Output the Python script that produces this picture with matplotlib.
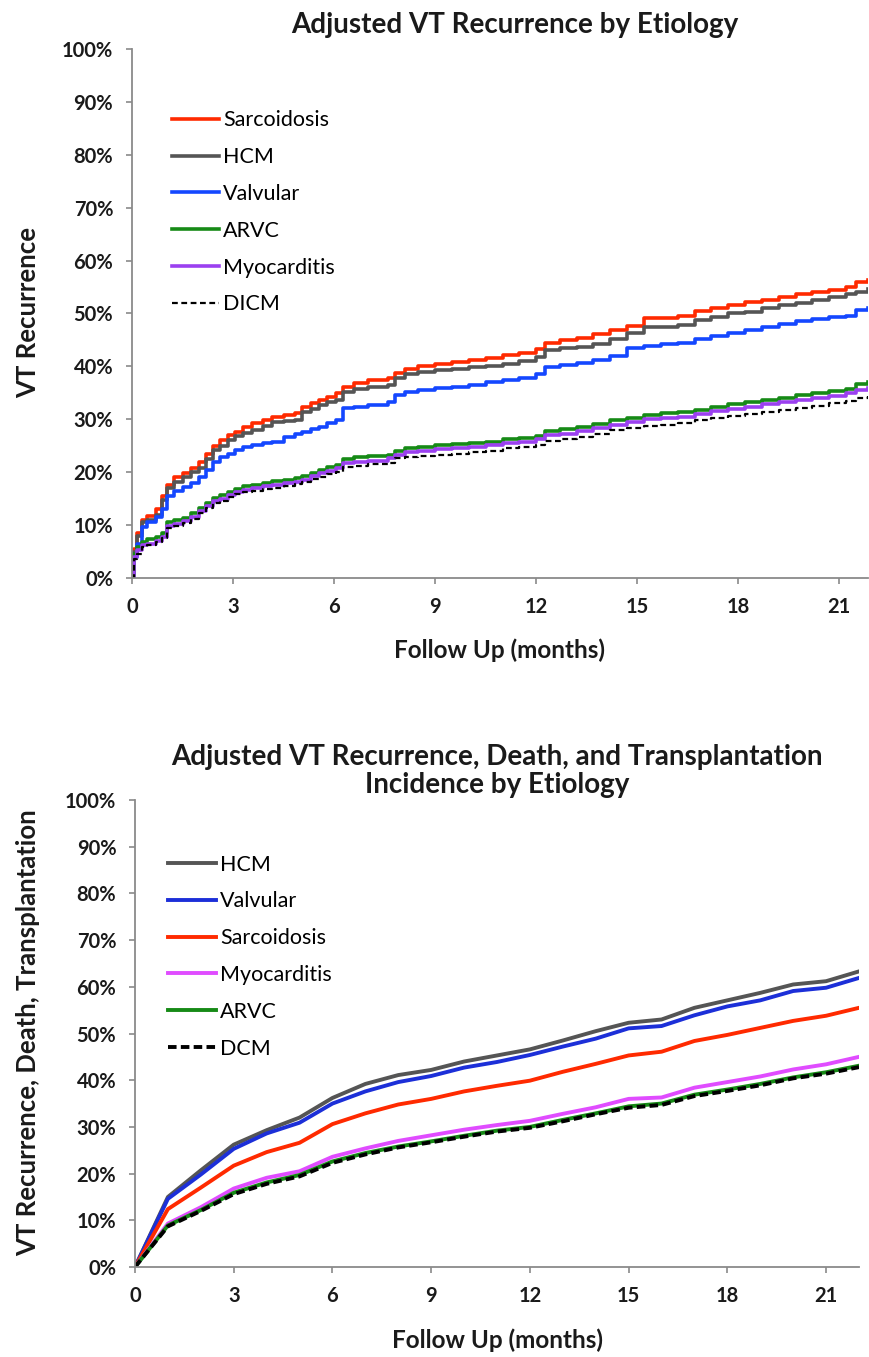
import matplotlib
matplotlib.use("Agg")
import matplotlib.pyplot as plt
from matplotlib.ticker import PercentFormatter, MultipleLocator

plt.rcParams['font.family'] = ['Lato', 'DejaVu Sans']

# ---------------- Top panel data (step curves) ----------------
top_months = [0, 0.05, 0.15, 0.3, 0.45, 0.7, 0.9, 1.05, 1.25, 1.5,
              1.75, 2.0, 2.2, 2.4, 2.6, 2.85, 3.05, 3.3, 3.55, 3.9,
              4.15, 4.5, 4.85, 5.05, 5.3, 5.55, 5.8, 6.05, 6.25, 6.6,
              7.0, 7.6, 7.8, 8.1, 8.5, 9.0, 9.5, 10.0, 10.5, 11.0,
              11.5, 12.0, 12.25, 12.7, 13.2, 13.7, 14.2, 14.7, 15.2, 15.7,
              16.2, 16.7, 17.2, 17.7, 18.2, 18.7, 19.2, 19.7, 20.2, 20.7,
              21.2, 21.5, 21.85]

top_sarcoidosis = [0, 5.5, 8.5, 11.0, 11.8, 13.0, 15.5, 17.5, 19.0, 19.8,
                   20.8, 22.0, 23.5, 25.0, 26.0, 27.0, 27.6, 28.5, 29.3, 29.9,
                   30.5, 30.8, 31.2, 32.4, 33.0, 33.6, 34.3, 35.0, 36.2, 36.8,
                   37.4, 37.8, 38.7, 39.5, 40.0, 40.4, 40.8, 41.2, 41.6, 42.1,
                   42.6, 43.2, 44.5, 45.0, 45.4, 46.2, 46.8, 47.6, 49.1, 49.2,
                   49.5, 50.5, 51.0, 51.6, 52.2, 52.6, 53.1, 53.6, 54.0, 54.5,
                   55.0, 55.9, 56.3]
top_hcm = [0, 5.0, 8.0, 10.5, 11.0, 12.0, 14.7, 17.0, 18.2, 19.0,
           20.0, 20.8, 22.5, 24.2, 25.0, 26.1, 26.8, 27.5, 28.0, 28.8,
           29.5, 29.7, 29.9, 31.4, 32.0, 32.7, 33.2, 33.6, 35.2, 35.7,
           36.2, 36.5, 37.8, 38.5, 38.9, 39.3, 39.6, 39.9, 40.1, 40.4,
           41.0, 41.8, 43.1, 43.4, 43.7, 44.2, 45.2, 46.3, 47.5, 47.5,
           47.8, 48.8, 49.3, 50.0, 50.3, 51.0, 51.6, 52.0, 52.6, 53.2,
           53.6, 54.1, 54.6]
top_valvular = [0, 4.0, 6.5, 9.7, 10.6, 11.6, 13.0, 15.5, 16.5, 17.2,
                18.0, 19.0, 20.5, 22.0, 22.8, 23.5, 24.2, 24.8, 25.1, 25.5,
                25.8, 26.7, 27.3, 27.6, 28.2, 28.6, 29.3, 29.9, 32.1, 32.4,
                32.7, 33.3, 34.6, 35.2, 35.5, 35.9, 36.2, 36.5, 37.0, 37.5,
                37.9, 38.5, 39.9, 40.2, 40.6, 41.2, 42.0, 43.4, 43.8, 44.2,
                44.4, 45.2, 45.8, 46.3, 46.9, 47.4, 48.0, 48.5, 48.9, 49.3,
                49.6, 50.7, 51.1]
top_arvc = [0, 4.5, 5.9, 6.8, 7.3, 7.8, 8.5, 10.5, 11.0, 11.4,
            12.2, 13.3, 14.2, 15.1, 15.6, 16.3, 16.9, 17.3, 17.6, 17.9,
            18.3, 18.6, 18.9, 19.3, 19.8, 20.4, 20.9, 21.4, 22.5, 22.8,
            23.0, 23.3, 24.0, 24.5, 24.8, 25.1, 25.3, 25.5, 25.8, 26.2,
            26.5, 26.9, 27.8, 28.1, 28.5, 29.2, 29.8, 30.2, 30.9, 31.1,
            31.3, 31.8, 32.3, 32.8, 33.2, 33.6, 34.0, 34.6, 35.0, 35.3,
            35.8, 36.6, 37.1]
top_myocarditis = [0, 4.0, 5.2, 6.2, 6.5, 7.0, 7.8, 9.8, 10.2, 10.7,
                   11.5, 12.6, 13.6, 14.5, 15.0, 15.7, 16.2, 16.7, 17.0, 17.3,
                   17.6, 17.9, 18.1, 18.6, 19.2, 19.8, 20.3, 20.7, 21.7, 22.0,
                   22.2, 22.6, 23.3, 23.8, 24.1, 24.4, 24.6, 24.8, 25.1, 25.5,
                   25.8, 26.2, 27.0, 27.3, 27.7, 28.4, 29.0, 29.4, 30.1, 30.3,
                   30.5, 31.0, 31.5, 32.0, 32.4, 32.8, 33.2, 33.7, 34.1, 34.4,
                   34.9, 35.6, 35.9]
top_dicm = [0, 3.5, 4.5, 5.8, 6.2, 6.8, 7.5, 9.4, 9.9, 10.4,
            11.2, 12.2, 13.2, 14.1, 14.6, 15.3, 15.8, 16.2, 16.5, 16.8,
            17.1, 17.4, 17.7, 18.2, 18.7, 19.1, 19.6, 20.0, 20.9, 21.2,
            21.5, 21.8, 22.6, 22.9, 23.1, 23.3, 23.5, 23.8, 24.1, 24.5,
            24.8, 25.2, 25.9, 26.3, 26.7, 27.3, 27.9, 28.3, 28.8, 29.0,
            29.3, 29.8, 30.2, 30.6, 31.0, 31.3, 31.8, 32.2, 32.6, 33.0,
            33.5, 34.1, 34.4]

# ---------------- Bottom panel data (monthly) ----------------
bot_months = list(range(23))
bot_hcm = [0, 15.0, 20.7, 26.2, 29.3, 32.0, 36.2, 39.2, 41.1, 42.2, 44.0, 45.3,
           46.6, 48.5, 50.5, 52.3, 53.0, 55.5, 57.1, 58.7, 60.5, 61.2, 63.3]
bot_valvular = [0, 14.6, 19.8, 25.3, 28.6, 30.9, 35.0, 37.6, 39.6, 40.9, 42.7, 43.9,
                45.4, 47.2, 48.9, 51.1, 51.6, 53.9, 55.8, 57.1, 59.1, 59.8, 61.9]
bot_sarcoidosis = [0, 12.4, 17.0, 21.7, 24.6, 26.6, 30.6, 32.9, 34.8, 36.0, 37.6, 38.8,
                   39.9, 41.8, 43.5, 45.3, 46.1, 48.4, 49.7, 51.2, 52.7, 53.8, 55.5]
bot_myocarditis = [0, 9.3, 12.8, 16.8, 19.1, 20.5, 23.6, 25.4, 27.0, 28.2, 29.4, 30.4,
                   31.3, 32.8, 34.2, 36.0, 36.3, 38.4, 39.6, 40.8, 42.3, 43.4, 45.0]
bot_arvc = [0, 8.9, 12.2, 15.9, 18.1, 19.7, 22.6, 24.4, 25.8, 26.9, 28.1, 29.2,
            30.0, 31.5, 32.9, 34.4, 35.0, 36.9, 38.0, 39.2, 40.6, 41.7, 43.1]
bot_dcm = [0, 8.7, 12.0, 15.6, 17.8, 19.4, 22.3, 24.1, 25.6, 26.7, 27.9, 29.0,
           29.8, 31.2, 32.7, 34.1, 34.7, 36.6, 37.7, 38.9, 40.4, 41.4, 42.8]

x_ticks = [0, 3, 6, 9, 12, 15, 18, 21]

W, H = 869, 1357
fig = plt.figure(figsize=(W / 100, H / 100), dpi=100)

AXC = '#8a8a8a'
TXT = '#1a1a1a'


def style_axes(ax, xmax):
    for s in ['top', 'right']:
        ax.spines[s].set_visible(False)
    for s in ['left', 'bottom']:
        ax.spines[s].set_color(AXC)
        ax.spines[s].set_linewidth(1.3)
    ax.set_xlim(0, xmax)
    ax.set_ylim(0, 100)
    ax.set_xticks(x_ticks)
    ax.yaxis.set_major_locator(MultipleLocator(10))
    ax.yaxis.set_major_formatter(PercentFormatter(decimals=0))
    ax.tick_params(axis='both', direction='out', length=4.5, width=1.2,
                   color=AXC, labelsize=14.5, labelcolor=TXT, pad=9)
    for lab in ax.get_xticklabels() + ax.get_yticklabels():
        lab.set_fontweight('bold')


LEG = dict(loc='upper left', frameon=False, fontsize=15.5, handlelength=2.2,
           handletextpad=0.2, labelspacing=0.78, borderpad=0, borderaxespad=0)

# ---- Top axes ----
ax1 = fig.add_axes([132 / W, 1 - 578 / H, (868 - 132) / W, (578 - 49) / H])
style_axes(ax1, 21.85)
lw1 = 2.6
ax1.plot(top_months, top_sarcoidosis, drawstyle='steps-post', color='#ff2a00', lw=lw1, label='Sarcoidosis')
ax1.plot(top_months, top_hcm, drawstyle='steps-post', color='#555555', lw=lw1, label='HCM')
ax1.plot(top_months, top_valvular, drawstyle='steps-post', color='#1447ff', lw=lw1, label='Valvular')
ax1.plot(top_months, top_arvc, drawstyle='steps-post', color='#168a16', lw=lw1, label='ARVC')
ax1.plot(top_months, top_myocarditis, drawstyle='steps-post', color='#9b40f0', lw=lw1, label='Myocarditis')
ax1.plot(top_months, top_dicm, drawstyle='steps-post', color='black', lw=1.6,
         linestyle=(0, (2.6, 1.6)), label='DICM')
ax1.legend(bbox_to_anchor=(0.054, 0.884), **LEG)

fig.text(515 / W, 1 - 25 / H, 'Adjusted VT Recurrence by Etiology', ha='center', va='center',
         fontsize=20, fontweight='bold', color=TXT)
fig.text(500 / W, 1 - 650 / H, 'Follow Up (months)', ha='center', va='center',
         fontsize=17.5, fontweight='bold', color=TXT)
fig.text(28 / W, 1 - 313 / H, 'VT Recurrence', ha='center', va='center', rotation=90,
         fontsize=18.5, fontweight='bold', color=TXT)

# ---- Bottom axes ----
ax2 = fig.add_axes([135 / W, 1 - 1267 / H, (859 - 135) / W, (1267 - 800) / H])
style_axes(ax2, 22)
lw2 = 2.8
ax2.plot(bot_months, bot_hcm, color='#555555', lw=lw2, label='HCM')
ax2.plot(bot_months, bot_valvular, color='#1c2fd8', lw=lw2, label='Valvular')
ax2.plot(bot_months, bot_sarcoidosis, color='#ff2a00', lw=lw2, label='Sarcoidosis')
ax2.plot(bot_months, bot_myocarditis, color='#e04cff', lw=lw2, label='Myocarditis')
ax2.plot(bot_months, bot_arvc, color='#168a16', lw=lw2, label='ARVC')
ax2.plot(bot_months, bot_dcm, color='black', lw=lw2, linestyle=(0, (2.2, 1.1)), label='DCM')
ax2.legend(bbox_to_anchor=(0.046, 0.883), **LEG)

fig.text(497 / W, 1 - 771 / H, 'Adjusted VT Recurrence, Death, and Transplantation\nIncidence by Etiology',
         ha='center', va='center', fontsize=20, fontweight='bold', color=TXT, linespacing=1.12)
fig.text(497 / W, 1 - 1340 / H, 'Follow Up (months)', ha='center', va='center',
         fontsize=17.5, fontweight='bold', color=TXT)
fig.text(28 / W, 1 - 1033 / H, 'VT Recurrence, Death, Transplantation', ha='center', va='center',
         rotation=90, fontsize=18.5, fontweight='bold', color=TXT)

fig.savefig('out.png', dpi=100)
